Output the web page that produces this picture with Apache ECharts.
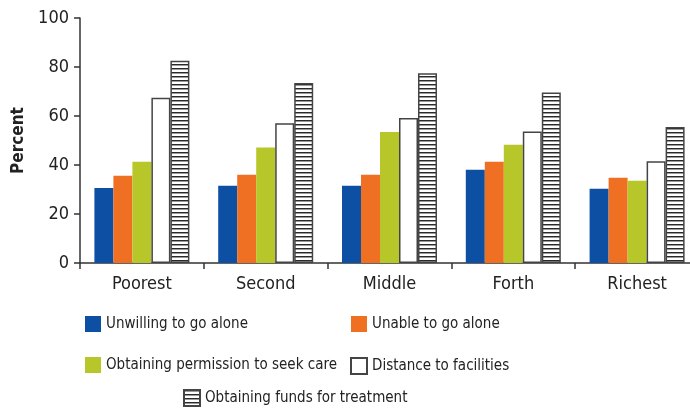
<!DOCTYPE html>
<html>
<head>
<meta charset="utf-8">
<script src="https://cdn.jsdelivr.net/npm/echarts@6/dist/echarts.min.js"></script>
<style>
  html, body { margin: 0; padding: 0; background: #fff; }
  #main { width: 690px; height: 410px; }
</style>
</head>
<body>
<div id="main"></div>
<script>
// categories along x
var groups = ['Poorest', 'Second', 'Middle', 'Forth', 'Richest'];

// values (percent)
var unwilling = [30.6, 31.5, 31.5, 38.1, 30.3];
var unable = [35.6, 36.0, 36.0, 41.3, 34.8];
var permission = [41.3, 47.1, 53.5, 48.3, 33.6];
var distance = [67.5, 57.0, 59.2, 53.7, 41.5];
var funds = [82.6, 73.5, 77.5, 69.6, 55.5];

var yTicks = [0, 20, 40, 60, 80, 100];

var FONT = '"Liberation Sans Narrow", "DejaVu Sans Condensed", "Noto Sans", sans-serif';

// horizontal stripes for the funds bars
function stripes() {
  var c = document.createElement('canvas');
  c.width = 4; c.height = 4;
  var ctx = c.getContext('2d');
  ctx.fillStyle = '#fff';
  ctx.fillRect(0, 0, 4, 4);
  ctx.fillStyle = '#2a2a2a';
  ctx.fillRect(0, 0, 4, 1);
  ctx.fillStyle = '#9a9a9a';
  ctx.fillRect(0, 1, 4, 1);
  return c;
}

var chart = echarts.init(document.getElementById('main'));

function bar(name, data, style) {
  return {
    name: name,
    type: 'bar',
    data: data,
    barWidth: 19,
    barGap: '0%',
    itemStyle: style
  };
}

var legendText = { fontSize: 15, color: '#222', fontFamily: FONT };

chart.setOption({
  animation: false,
  grid: { left: 80, top: 18, bottom: 147, width: 619, outerBoundsMode: 'none', containLabel: false },
  legend: [
    {
      data: ['Unwilling to go alone', 'Obtaining permission to seek care'],
      orient: 'vertical', left: 80, top: 311, icon: 'rect',
      itemWidth: 16, itemHeight: 16, itemGap: 25,
      textStyle: legendText
    },
    {
      data: ['Unable to go alone', 'Distance to facilities'],
      orient: 'vertical', left: 345, top: 311, icon: 'rect',
      itemWidth: 16, itemHeight: 16, itemGap: 25,
      textStyle: legendText
    },
    {
      data: ['Obtaining funds for treatment'],
      left: 178, top: 384, icon: 'rect',
      itemWidth: 16, itemHeight: 16,
      textStyle: legendText
    }
  ],
  xAxis: {
    type: 'category',
    data: groups,
    axisLine: { lineStyle: { color: '#333', width: 1.5 } },
    axisTick: { show: true, length: 6, lineStyle: { color: '#333', width: 1.5 } },
    axisLabel: { fontSize: 18, color: '#222', margin: 12, fontFamily: FONT }
  },
  yAxis: {
    type: 'value',
    min: yTicks[0],
    max: yTicks[yTicks.length - 1],
    interval: 20,
    name: 'Percent',
    nameLocation: 'middle',
    nameRotate: 90,
    nameGap: 52,
    nameTextStyle: { fontSize: 17, fontWeight: 'bold', color: '#222', fontFamily: FONT },
    axisLine: { show: true, lineStyle: { color: '#333', width: 1.5 } },
    axisTick: { show: true, length: 6, lineStyle: { color: '#333', width: 1.5 } },
    axisLabel: { fontSize: 18, color: '#222', margin: 11, fontFamily: FONT },
    splitLine: { show: false }
  },
  series: [
    bar('Unwilling to go alone', unwilling, { color: '#0d4fa2' }),
    bar('Unable to go alone', unable, { color: '#f07023' }),
    bar('Obtaining permission to seek care', permission, { color: '#b7c72a' }),
    bar('Distance to facilities', distance, { color: '#fff', borderColor: '#444', borderWidth: 1.5 }),
    bar('Obtaining funds for treatment', funds, {
      color: { image: stripes(), repeat: 'repeat' },
      borderColor: '#444', borderWidth: 1.5
    })
  ]
});
</script>
</body>
</html>
